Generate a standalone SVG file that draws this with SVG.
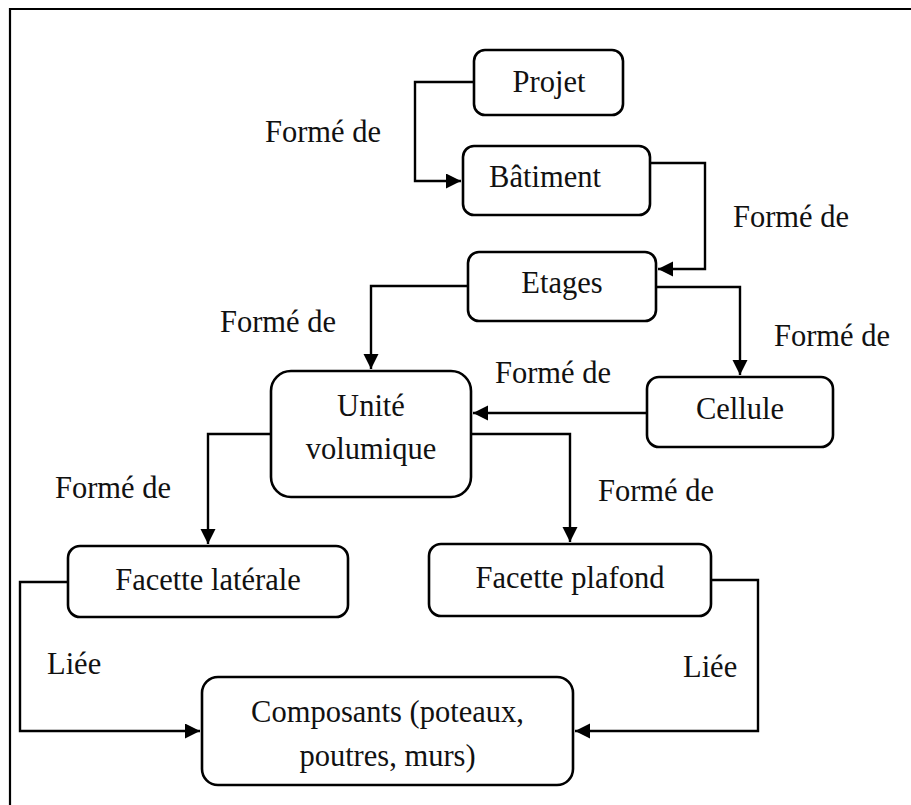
<svg xmlns="http://www.w3.org/2000/svg" width="911" height="805" viewBox="0 0 911 805">
  <style>
    .box { fill: #ffffff; stroke: #000000; stroke-width: 2.6; }
    .wire { fill: none; stroke: #000000; stroke-width: 2.4; }
    .frame { fill: none; stroke: #000000; stroke-width: 2.2; }
    text { font-family: "Liberation Serif", "DejaVu Serif", serif; font-size: 30.5px; fill: #111111; }
    .mid { text-anchor: middle; }
  </style>
  <defs>
    <marker id="arrow" markerUnits="userSpaceOnUse" markerWidth="16" markerHeight="16" refX="15" refY="7.5" orient="auto">
      <path d="M0,0 L15,7.5 L0,15 Z" fill="#000000"/>
    </marker>
  </defs>

  <rect width="911" height="805" fill="#ffffff"/>
  <!-- page frame -->
  <path class="frame" d="M10,805 L10,9 L911,9"/>

  <!-- connectors -->
  <g id="connectors">
    <path class="wire" d="M474,82 H415 V181 H461" marker-end="url(#arrow)"/>
    <path class="wire" d="M650,163 H705 V269 H658" marker-end="url(#arrow)"/>
    <path class="wire" d="M468,286 H371 V369" marker-end="url(#arrow)"/>
    <path class="wire" d="M656,287 H740 V375" marker-end="url(#arrow)"/>
    <path class="wire" d="M647,413 H473" marker-end="url(#arrow)"/>
    <path class="wire" d="M271,434 H208 V544" marker-end="url(#arrow)"/>
    <path class="wire" d="M471,434 H570 V542" marker-end="url(#arrow)"/>
    <path class="wire" d="M68,582 H20 V731 H200" marker-end="url(#arrow)"/>
    <path class="wire" d="M711,580 H758 V731 H575" marker-end="url(#arrow)"/>

    <text x="265" y="142">Formé de</text>
    <text x="733" y="227">Formé de</text>
    <text x="220" y="332">Formé de</text>
    <text x="774" y="346">Formé de</text>
    <text x="495" y="383">Formé de</text>
    <text x="55" y="498">Formé de</text>
    <text x="598" y="501">Formé de</text>
    <text x="47" y="674">Liée</text>
    <text x="683" y="677">Liée</text>
  </g>

  <!-- nodes -->
  <g id="projet">
    <rect class="box" x="474" y="50" width="149" height="65" rx="11"/>
    <text class="mid" x="549" y="92">Projet</text>
  </g>
  <g id="batiment">
    <rect class="box" x="463" y="146" width="187" height="69" rx="11"/>
    <text class="mid" x="545" y="187">Bâtiment</text>
  </g>
  <g id="etages">
    <rect class="box" x="468" y="252" width="188" height="69" rx="11"/>
    <text class="mid" x="562" y="293">Etages</text>
  </g>
  <g id="cellule">
    <rect class="box" x="647" y="377" width="186" height="70" rx="12"/>
    <text class="mid" x="740" y="419">Cellule</text>
  </g>
  <g id="unite-volumique">
    <rect class="box" x="271" y="371" width="200" height="126" rx="20"/>
    <text class="mid" x="371" y="416">Unité</text>
    <text class="mid" x="371" y="459">volumique</text>
  </g>
  <g id="facette-laterale">
    <rect class="box" x="68" y="546" width="280" height="71" rx="12"/>
    <text class="mid" x="208" y="590">Facette latérale</text>
  </g>
  <g id="facette-plafond">
    <rect class="box" x="429" y="544" width="282" height="72" rx="12"/>
    <text class="mid" x="570" y="588">Facette plafond</text>
  </g>
  <g id="composants">
    <rect class="box" x="202" y="677" width="371" height="108" rx="16"/>
    <text class="mid" x="387.5" y="722">Composants (poteaux,</text>
    <text class="mid" x="387.5" y="766">poutres, murs)</text>
  </g>
</svg>
